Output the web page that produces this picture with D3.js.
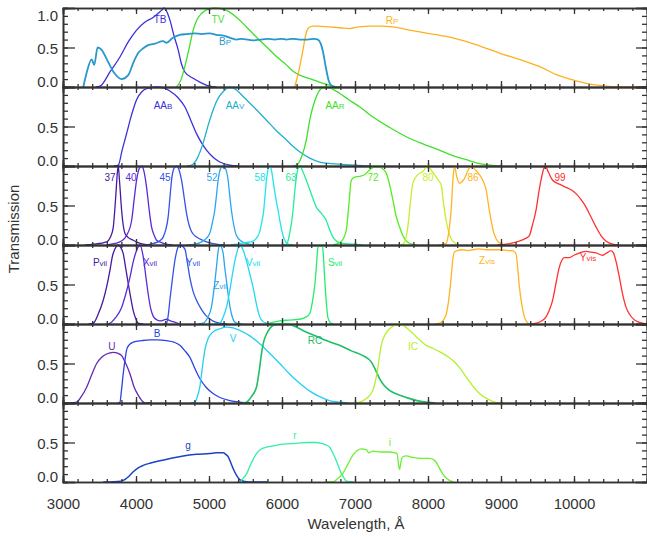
<!DOCTYPE html>
<html>
<head>
<meta charset="utf-8">
<script src="https://cdn.jsdelivr.net/npm/d3@7"></script>
<style>
body { margin: 0; background: #fff; }
text { font-family: "Liberation Sans", Arial, sans-serif; }
</style>
</head>
<body>
<div id="chart"></div>
<script>

// ---- filter curves: [wavelength (A), transmission] ----
// panel 1 : Tycho / Gaia
var TB = [[3450,0],[3506,0.01],[3650,0.2],[3780,0.38],[3900,0.58],[4008,0.72],[4120,0.82],[4235,0.88],[4350,0.97],[4386,1.0],[4464,0.85],[4520,0.65],[4578,0.47],[4620,0.3],[4669,0.19],[4783,0.11],[4900,0.05],[5011,0.01],[5100,0]];
var Bp = [[3278,0],[3330,0.2],[3392,0.35],[3428,0.28],[3474,0.5],[3529,0.47],[3600,0.35],[3700,0.18],[3803,0.1],[3894,0.15],[3960,0.3],[4030,0.43],[4100,0.49],[4167,0.53],[4260,0.55],[4372,0.58],[4420,0.56],[4500,0.62],[4600,0.66],[4692,0.67],[4800,0.68],[4900,0.67],[5011,0.68],[5100,0.66],[5200,0.65],[5300,0.62],[5376,0.6],[5450,0.61],[5603,0.59],[5700,0.6],[5800,0.61],[5900,0.6],[6000,0.61],[6060,0.6],[6150,0.61],[6242,0.6],[6350,0.6],[6440,0.61],[6492,0.6],[6530,0.55],[6561,0.45],[6600,0.25],[6640,0.08],[6675,0.02],[6720,0]];
var TV = [[4555,0],[4620,0.1],[4669,0.26],[4730,0.5],[4783,0.72],[4840,0.86],[4897,0.93],[5000,0.99],[5079,1.0],[5239,0.97],[5380,0.88],[5513,0.76],[5650,0.63],[5787,0.51],[5920,0.39],[6060,0.28],[6150,0.2],[6242,0.15],[6400,0.1],[6550,0.05],[6698,0.01],[6800,0]];
var Rp = [[6174,0],[6230,0.2],[6287,0.47],[6330,0.68],[6356,0.74],[6420,0.77],[6470,0.77],[6650,0.76],[6800,0.75],[6926,0.74],[7050,0.76],[7200,0.77],[7350,0.77],[7519,0.76],[7750,0.72],[7998,0.68],[8249,0.64],[8430,0.6],[8613,0.55],[8800,0.49],[8978,0.43],[9250,0.35],[9525,0.26],[9750,0.16],[9981,0.09],[10150,0.05],[10346,0.02],[10665,0],[11000,0]];

// panel 2 : AA
var AAB = [[3700,0],[3757,0.01],[3810,0.2],[3871,0.41],[3940,0.65],[4008,0.84],[4080,0.94],[4145,0.98],[4282,1.0],[4380,0.99],[4464,0.95],[4570,0.87],[4669,0.75],[4750,0.58],[4829,0.41],[4900,0.29],[4966,0.2],[5056,0.11],[5148,0.05],[5285,0.01],[5400,0]];
var AAV = [[4700,0],[4760,0.01],[4840,0.1],[4919,0.29],[4990,0.52],[5056,0.71],[5120,0.85],[5193,0.94],[5285,1.0],[5380,0.96],[5467,0.88],[5630,0.73],[5787,0.58],[5920,0.45],[6060,0.33],[6150,0.25],[6242,0.18],[6380,0.1],[6516,0.05],[6680,0.03],[6834,0.02],[7000,0.01],[7200,0]];
var AAR = [[6150,0],[6197,0.01],[6270,0.12],[6333,0.33],[6380,0.58],[6424,0.75],[6480,0.9],[6538,0.98],[6607,1.0],[6700,0.97],[6789,0.92],[6930,0.83],[7063,0.75],[7245,0.62],[7470,0.49],[7702,0.37],[7930,0.28],[8157,0.2],[8340,0.13],[8522,0.08],[8705,0.03],[8850,0.01],[9000,0]];

// panel 3 : medium band
var F37 = [[3300,0],[3415,0.01],[3598,0.04],[3650,0.1],[3688,0.22],[3710,0.45],[3725,0.65],[3745,0.92],[3757,1.0],[3775,0.8],[3803,0.44],[3825,0.25],[3848,0.15],[3900,0.09],[3962,0.06],[4030,0.03],[4100,0.01],[4200,0]];
var F40 = [[3600,0],[3710,0.02],[3800,0.05],[3871,0.12],[3940,0.31],[3975,0.58],[4008,0.82],[4040,0.96],[4076,1.0],[4110,0.93],[4145,0.73],[4180,0.45],[4213,0.23],[4250,0.12],[4282,0.06],[4350,0.03],[4418,0.01],[4500,0]];
var F45 = [[4150,0],[4240,0.02],[4320,0.05],[4372,0.1],[4410,0.2],[4441,0.36],[4465,0.6],[4487,0.82],[4520,0.97],[4555,1.0],[4590,0.95],[4624,0.82],[4660,0.6],[4692,0.4],[4725,0.26],[4760,0.17],[4830,0.1],[4919,0.06],[5000,0.03],[5100,0.01],[5200,0]];
var F52 = [[4700,0],[4810,0.01],[4900,0.04],[4960,0.08],[5011,0.15],[5050,0.3],[5079,0.44],[5105,0.65],[5125,0.82],[5160,0.97],[5193,1.0],[5230,0.96],[5262,0.82],[5285,0.62],[5307,0.44],[5340,0.25],[5376,0.12],[5440,0.05],[5513,0.02],[5600,0]];
var F58 = [[5300,0],[5380,0.01],[5500,0.03],[5603,0.05],[5660,0.1],[5695,0.17],[5725,0.3],[5750,0.44],[5770,0.65],[5787,0.82],[5810,0.96],[5832,1.0],[5855,0.95],[5877,0.82],[5910,0.62],[5946,0.44],[5980,0.26],[6014,0.12],[6050,0.04],[6083,0.01],[6150,0]];
var F63 = [[6000,0],[6060,0.01],[6085,0.06],[6105,0.15],[6130,0.28],[6151,0.44],[6175,0.68],[6197,0.86],[6220,0.97],[6242,1.0],[6290,0.92],[6333,0.82],[6400,0.65],[6470,0.48],[6540,0.4],[6607,0.31],[6650,0.2],[6698,0.1],[6760,0.04],[6834,0.02],[6985,0.01],[7100,0]];
var F72 = [[6700,0],[6789,0.03],[6840,0.08],[6881,0.19],[6915,0.5],[6949,0.82],[6995,0.86],[7060,0.87],[7131,0.89],[7200,0.95],[7291,1.0],[7370,0.97],[7428,0.91],[7470,0.78],[7519,0.57],[7560,0.38],[7610,0.23],[7660,0.11],[7702,0.05],[7780,0.01],[7850,0]];
var F80 = [[7600,0],[7655,0.01],[7700,0.1],[7724,0.23],[7760,0.55],[7792,0.78],[7860,0.89],[7930,0.93],[7998,1.0],[8050,0.94],[8090,0.89],[8140,0.82],[8181,0.76],[8210,0.55],[8249,0.31],[8290,0.14],[8340,0.05],[8430,0]];
var F86 = [[8150,0],[8249,0.02],[8290,0.2],[8317,0.44],[8340,0.8],[8362,1.0],[8395,0.86],[8431,0.78],[8465,0.8],[8499,0.84],[8550,0.95],[8591,1.0],[8650,0.95],[8705,0.89],[8750,0.82],[8796,0.7],[8830,0.5],[8865,0.31],[8900,0.16],[8933,0.08],[8990,0.02],[9050,0]];
var F99 = [[8950,0],[9070,0.01],[9252,0.05],[9330,0.08],[9389,0.12],[9430,0.25],[9480,0.44],[9520,0.68],[9548,0.82],[9580,0.95],[9607,1.0],[9650,0.92],[9707,0.82],[9800,0.77],[9890,0.73],[9960,0.7],[10027,0.65],[10100,0.57],[10164,0.48],[10230,0.36],[10301,0.23],[10370,0.12],[10437,0.05],[10530,0.01],[10620,0]];

// panel 4 : Vilnius + VISTA
var Pvil = [[3350,0],[3415,0.01],[3480,0.12],[3551,0.3],[3600,0.48],[3643,0.68],[3680,0.87],[3711,0.95],[3757,1.0],[3790,0.97],[3825,0.89],[3860,0.7],[3894,0.51],[3930,0.32],[3962,0.17],[4000,0.06],[4030,0.01],[4100,0]];
var Xvil = [[3600,0],[3643,0.01],[3720,0.08],[3803,0.21],[3860,0.38],[3917,0.59],[3965,0.8],[4008,0.93],[4053,1.0],[4099,0.85],[4135,0.6],[4167,0.38],[4200,0.2],[4235,0.1],[4290,0.05],[4327,0.04],[4380,0.05],[4418,0.06],[4470,0.04],[4510,0.03],[4600,0]];
var Yvil = [[4380,0],[4418,0.01],[4440,0.1],[4464,0.3],[4500,0.58],[4532,0.8],[4570,0.96],[4601,1.0],[4669,0.95],[4700,0.8],[4737,0.59],[4780,0.42],[4829,0.3],[4900,0.18],[4966,0.1],[5050,0.04],[5148,0.01],[5250,0]];
var Zvil = [[4850,0],[4919,0.01],[4980,0.08],[5033,0.21],[5070,0.45],[5102,0.72],[5125,0.92],[5148,1.0],[5193,0.9],[5215,0.72],[5239,0.55],[5270,0.32],[5307,0.13],[5340,0.04],[5380,0.01],[5450,0]];
var Vvil = [[5080,0],[5148,0.01],[5200,0.1],[5239,0.21],[5290,0.45],[5330,0.68],[5380,0.9],[5421,1.0],[5470,0.93],[5513,0.8],[5560,0.63],[5603,0.47],[5650,0.25],[5695,0.09],[5740,0.03],[5790,0.01],[5850,0]];
var Svil = [[5780,0],[5832,0.01],[5969,0.04],[6100,0.05],[6242,0.06],[6330,0.09],[6379,0.13],[6420,0.3],[6450,0.5],[6470,0.72],[6490,0.95],[6506,1.0],[6552,1.0],[6568,0.85],[6584,0.59],[6605,0.3],[6629,0.08],[6660,0.02],[6700,0]];
var Zvis = [[8100,0],[8157,0.01],[8210,0.05],[8249,0.12],[8290,0.35],[8317,0.59],[8340,0.82],[8362,0.91],[8400,0.93],[8476,0.94],[8550,0.93],[8613,0.94],[8700,0.95],[8800,0.94],[8900,0.94],[9000,0.94],[9100,0.93],[9160,0.93],[9206,0.89],[9230,0.7],[9252,0.47],[9285,0.25],[9320,0.09],[9350,0.03],[9389,0]];
var Yvis = [[9400,0],[9480,0.01],[9560,0.04],[9617,0.09],[9660,0.17],[9707,0.3],[9750,0.5],[9799,0.72],[9835,0.81],[9867,0.84],[9935,0.84],[10000,0.87],[10080,0.9],[10164,0.92],[10230,0.91],[10301,0.9],[10392,0.87],[10450,0.9],[10506,0.93],[10540,0.9],[10574,0.8],[10620,0.6],[10665,0.38],[10710,0.22],[10756,0.13],[10830,0.05],[10900,0.02],[10990,0]];

// panel 5 : Johnson-Cousins
var U = [[3100,0],[3187,0.01],[3250,0.08],[3324,0.2],[3390,0.35],[3461,0.5],[3530,0.58],[3598,0.62],[3688,0.64],[3750,0.63],[3803,0.6],[3860,0.5],[3917,0.37],[3975,0.2],[4030,0.1],[4080,0.03],[4120,0],[4200,0]];
var B = [[3750,0],[3780,0.01],[3800,0.15],[3825,0.37],[3850,0.55],[3871,0.67],[3910,0.74],[3962,0.77],[4080,0.79],[4190,0.8],[4300,0.8],[4418,0.79],[4520,0.77],[4601,0.73],[4670,0.66],[4737,0.58],[4800,0.45],[4874,0.31],[4960,0.2],[5056,0.12],[5150,0.07],[5285,0.03],[5420,0.01],[5560,0]];
var V = [[4750,0],[4806,0.01],[4840,0.08],[4874,0.2],[4905,0.42],[4943,0.67],[4990,0.82],[5056,0.9],[5150,0.94],[5239,0.96],[5330,0.95],[5421,0.92],[5560,0.85],[5695,0.75],[5830,0.63],[5969,0.5],[6100,0.37],[6242,0.25],[6380,0.15],[6516,0.08],[6650,0.03],[6789,0.01],[6900,0]];
var RC = [[5450,0],[5513,0.01],[5580,0.08],[5650,0.2],[5690,0.42],[5718,0.62],[5750,0.78],[5787,0.87],[5830,0.94],[5877,0.98],[5960,1.0],[6060,1.0],[6330,0.9],[6607,0.79],[6789,0.73],[6950,0.66],[7108,0.6],[7223,0.52],[7280,0.42],[7337,0.31],[7400,0.22],[7473,0.16],[7580,0.11],[7702,0.07],[7850,0.03],[7998,0.01],[8100,0]];
var IC = [[7000,0],[7063,0.01],[7160,0.06],[7245,0.16],[7290,0.32],[7313,0.44],[7340,0.62],[7360,0.73],[7410,0.86],[7473,0.94],[7540,0.98],[7610,1.0],[7680,0.97],[7747,0.92],[7860,0.82],[7975,0.73],[8070,0.69],[8157,0.65],[8250,0.6],[8339,0.54],[8430,0.45],[8522,0.33],[8610,0.22],[8705,0.12],[8820,0.05],[8978,0.0],[9050,0]];

// panel 6 : SDSS-like
var gBand = [[3550,0],[3643,0],[3750,0.005],[3825,0.02],[3900,0.07],[3962,0.13],[4030,0.18],[4099,0.21],[4200,0.24],[4327,0.27],[4480,0.3],[4646,0.33],[4830,0.35],[5011,0.36],[5100,0.37],[5193,0.37],[5230,0.35],[5262,0.32],[5300,0.24],[5330,0.17],[5380,0.08],[5421,0.03],[5470,0.01],[5550,0],[5800,0]];
var rBand = [[5380,0],[5421,0],[5460,0.04],[5513,0.1],[5580,0.24],[5650,0.36],[5720,0.42],[5787,0.44],[5900,0.46],[6014,0.48],[6200,0.49],[6350,0.5],[6470,0.5],[6530,0.49],[6600,0.47],[6653,0.44],[6700,0.36],[6744,0.27],[6780,0.18],[6812,0.11],[6850,0.05],[6881,0.01],[6980,0]];
var iBand = [[6600,0],[6698,0],[6760,0.04],[6834,0.11],[6900,0.22],[6971,0.34],[7030,0.4],[7086,0.42],[7154,0.41],[7190,0.37],[7245,0.39],[7350,0.38],[7473,0.38],[7540,0.37],[7574,0.36],[7600,0.2],[7610,0.16],[7635,0.28],[7655,0.32],[7702,0.33],[7800,0.31],[7884,0.3],[8020,0.3],[8080,0.28],[8112,0.25],[8160,0.17],[8203,0.1],[8250,0.05],[8294,0.02],[8350,0]];

var xMajor = [3000,4000,5000,6000,7000,8000,9000,10000,11000];
var xLabels = [3000,4000,5000,6000,7000,8000,9000,10000];
var yMajor = [0, 0.5, 1.0];

// label: main text, small suffix, and where it sits (wavelength, transmission)
var panels = [
  [ {d: TB, c: "#3a30dc", t: "TB", s: "", at: [4329, 0.85]},
    {d: TV, c: "#3ee02a", t: "TV", s: "", at: [5123, 0.85]},
    {d: Rp, c: "#ffb020", t: "R", s: "P", at: [7507, 0.84]},
    {d: Bp, c: "#2898cc", t: "B", s: "P", at: [5219, 0.57], w: 1.8} ],
  [ {d: AAB, c: "#3a30dc", t: "AA", s: "B", at: [4370, 0.76]},
    {d: AAV, c: "#22aed0", t: "AA", s: "V", at: [5356, 0.76]},
    {d: AAR, c: "#3ee02a", t: "AA", s: "R", at: [6726, 0.76]} ],
  [ {d: F37, c: "#4818a0", t: "37", s: "", at: [3644, 0.86]},
    {d: F40, c: "#5a2ad8", t: "40", s: "", at: [3932, 0.86]},
    {d: F45, c: "#3454e6", t: "45", s: "", at: [4397, 0.86]},
    {d: F52, c: "#2aa6f0", t: "52", s: "", at: [5041, 0.86]},
    {d: F58, c: "#22e4ea", t: "58", s: "", at: [5699, 0.86]},
    {d: F63, c: "#22ee9a", t: "63", s: "", at: [6123, 0.86]},
    {d: F72, c: "#52ee1e", t: "72", s: "", at: [7247, 0.86]},
    {d: F80, c: "#c4f02a", t: "80", s: "", at: [8000, 0.86]},
    {d: F86, c: "#ffb420", t: "86", s: "", at: [8616, 0.86]},
    {d: F99, c: "#ff3030", t: "99", s: "", at: [9808, 0.86]} ],
  [ {d: Pvil, c: "#4818a0", t: "P", s: "vil", at: [3507, 0.78]},
    {d: Xvil, c: "#5a2ad8", t: "X", s: "vil", at: [4192, 0.78]},
    {d: Yvil, c: "#3454e6", t: "Y", s: "vil", at: [4781, 0.78]},
    {d: Zvil, c: "#2aa6f0", t: "Z", s: "vil", at: [5151, 0.49]},
    {d: Vvil, c: "#22d8f0", t: "V", s: "vil", at: [5603, 0.78]},
    {d: Svil, c: "#22ee6a", t: "S", s: "vil", at: [6726, 0.78]},
    {d: Zvis, c: "#ffb420", t: "Z", s: "vis", at: [8808, 0.8]},
    {d: Yvis, c: "#ff3030", t: "Y", s: "vis", at: [10192, 0.84]} ],
  [ {d: U, c: "#6428b4", t: "U", s: "", at: [3671, 0.71]},
    {d: B, c: "#2a42e2", t: "B", s: "", at: [4288, 0.88]},
    {d: V, c: "#22d0f2", t: "V", s: "", at: [5329, 0.82]},
    {d: RC, c: "#1fbd66", t: "RC", s: "", at: [6452, 0.79], w: 1.6},
    {d: IC, c: "#b4f02a", t: "IC", s: "", at: [7795, 0.72]} ],
  [ {d: gBand, c: "#1a44c4", t: "g", s: "", at: [4712, 0.46], w: 1.5},
    {d: rBand, c: "#30f0a4", t: "r", s: "", at: [6178, 0.59]},
    {d: iBand, c: "#6cf030", t: "i", s: "", at: [7479, 0.5]} ]
];

var width = 647, height = 537;
var left = 63, right = 647, top0 = 8, panelH = 79;
var ink = "#333";

var svg = d3.select("#chart").append("svg")
    .attr("width", width)
    .attr("height", height);

var x = d3.scaleLinear().domain([3000, 11000]).range([left, right]);
var xMinor = d3.range(3000, 11001, 200);
var yMinor = d3.range(0, 1.001, 0.1);

var line = d3.line().curve(d3.curveMonotoneX);

panels.forEach(function(filters, p) {
    var top = top0 + p * panelH, bottom = top + panelH;
    var y = d3.scaleLinear().domain([0, 1]).range([bottom, top]);
    var g = svg.append("g");

    line.x(function(d) { return x(d[0]); }).y(function(d) { return y(d[1]); });

    filters.forEach(function(f) {
        g.append("path")
            .attr("d", line(f.d))
            .attr("fill", "none")
            .attr("stroke", f.c)
            .attr("stroke-width", f.w || 1.3);
        var lab = g.append("text")
            .attr("x", x(f.at[0]))
            .attr("y", y(f.at[1]) + 3.5)
            .attr("text-anchor", "middle")
            .attr("font-size", 10)
            .attr("fill", f.c)
            .text(f.t);
        if (f.s) lab.append("tspan").attr("font-size", 8).text(f.s);
    });

    // frame + ticks, all pointing inward
    function noLab() { return ""; }
    g.append("g").attr("transform", "translate(0," + top + ")")
        .call(d3.axisBottom(x).tickValues(xMinor).tickSize(3).tickFormat(noLab));
    g.append("g").attr("transform", "translate(0," + top + ")")
        .call(d3.axisBottom(x).tickValues(xMajor).tickSize(6).tickFormat(noLab));
    g.append("g").attr("transform", "translate(0," + bottom + ")")
        .call(d3.axisTop(x).tickValues(xMinor).tickSize(3).tickFormat(noLab));
    g.append("g").attr("transform", "translate(0," + bottom + ")")
        .call(d3.axisTop(x).tickValues(xMajor).tickSize(6).tickFormat(noLab));
    g.append("g").attr("transform", "translate(" + left + ",0)")
        .call(d3.axisRight(y).tickValues(yMinor).tickSize(5).tickFormat(noLab));
    g.append("g").attr("transform", "translate(" + left + ",0)")
        .call(d3.axisRight(y).tickValues(yMajor).tickSize(12).tickFormat(noLab));
    g.append("g").attr("transform", "translate(" + right + ",0)")
        .call(d3.axisLeft(y).tickValues(yMinor).tickSize(5).tickFormat(noLab));
    g.append("g").attr("transform", "translate(" + right + ",0)")
        .call(d3.axisLeft(y).tickValues(yMajor).tickSize(11).tickFormat(noLab));

    g.selectAll(".domain").attr("stroke", ink).attr("stroke-width", 1.6);
    g.selectAll(".tick line").attr("stroke", ink).attr("stroke-width", 1.3);

    // y tick labels (IDL keeps end labels inside the panel)
    var yl = p == 0 ? yMajor : [0, 0.5];
    g.selectAll(".ylab").data(yl).enter().append("text")
        .attr("x", 58)
        .attr("y", function(v) {
            if (v == 0) return bottom;
            if (v == 1) return top + 12.5;
            return y(v) + 6;
        })
        .attr("text-anchor", "end")
        .attr("font-size", 15)
        .attr("fill", ink)
        .text(d3.format(".1f"));
});

var lastBottom = top0 + panels.length * panelH;
var xa = svg.append("g").attr("transform", "translate(0," + lastBottom + ")")
    .call(d3.axisBottom(x).tickValues(xLabels).tickSize(0).tickPadding(16).tickFormat(d3.format("d")));
xa.select(".domain").remove();
xa.selectAll("text").attr("font-size", 15).attr("fill", ink)
    .attr("font-family", "Liberation Sans, Arial, sans-serif");

svg.append("text")
    .attr("x", 356)
    .attr("y", 529)
    .attr("text-anchor", "middle")
    .attr("font-size", 15)
    .attr("fill", ink)
    .text("Wavelength, Å");

svg.append("text")
    .attr("transform", "translate(19,229) rotate(-90)")
    .attr("text-anchor", "middle")
    .attr("font-size", 15)
    .attr("fill", ink)
    .text("Transmission");

</script>
</body>
</html>
